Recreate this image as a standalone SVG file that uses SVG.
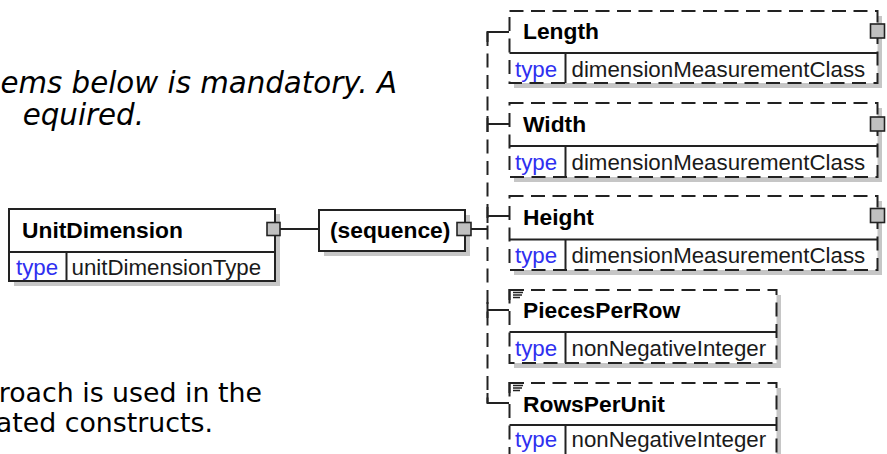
<svg xmlns="http://www.w3.org/2000/svg" width="887" height="454" viewBox="0 0 887 454">
<style>
.bg{fill:#ffffff}
.shadow{fill:#c6c6c6}
.box{fill:#ffffff;stroke:#222;stroke-width:2}
.opt{fill:#ffffff;stroke:#222;stroke-width:2;stroke-dasharray:14 7.5}
.div{stroke:#222;stroke-width:2;fill:none}
.sq{fill:#c0c0c0;stroke:#222;stroke-width:1.6}
.ln{stroke:#222;stroke-width:2;fill:none}
.dash{stroke:#222;stroke-width:2;fill:none;stroke-dasharray:14 7.5}
.hd{font-family:"Liberation Sans",Arial,sans-serif;font-weight:bold;font-size:22.8px;fill:#000}
.tk{font-family:"Liberation Sans",Arial,sans-serif;font-size:22.3px;fill:#2f2ff0}
.tv{font-family:"Liberation Sans",Arial,sans-serif;font-size:22.3px;fill:#1a1a1a}
.note{font-family:"DejaVu Sans",Verdana,sans-serif;font-size:29.3px;fill:#000}
.note2{font-family:"DejaVu Sans",Verdana,sans-serif;font-size:26.8px;fill:#000}
.icon{stroke:#222;stroke-width:1.3;fill:none}
</style>
<rect class="bg" x="0" y="0" width="887" height="454"/>

<g id="notes">
<text class="note" font-style="italic" x="397" y="93" text-anchor="end">ems below is mandatory. A</text>
<text class="note" font-style="italic" x="144" y="125" text-anchor="end">equired.</text>
<text class="note2" x="262" y="402" text-anchor="end">roach is used in the</text>
<text class="note2" x="213" y="432" text-anchor="end">ated constructs.</text>
</g>

<g id="connectors">
<line class="ln" x1="280" y1="229" x2="319" y2="229"/>
<line class="ln" x1="471" y1="229" x2="487.5" y2="229"/>
<line class="dash" x1="487.5" y1="32" x2="487.5" y2="403"/>
<path class="ln" d="M487.5,42 V32 H509"/>
<path class="ln" d="M487.5,116 V132 M487.5,124 H509"/>
<path class="ln" d="M487.5,207 V223 M487.5,216 H509"/>
<path class="ln" d="M487.5,302 V318 M487.5,310 H509"/>
<path class="ln" d="M487.5,393 V403 H509"/>
</g>

<g id="UnitDimension">
<rect class="shadow" x="14" y="214" width="266" height="72"/>
<rect class="box" x="9" y="209" width="266" height="72"/>
<line class="div" x1="9" y1="252" x2="275" y2="252"/>
<line class="div" x1="66.5" y1="252" x2="66.5" y2="281"/>
<text class="hd" x="22" y="238">UnitDimension</text>
<text class="tk" x="16" y="275">type</text>
<text class="tv" x="71.5" y="275">unitDimensionType</text>
<rect class="sq" x="267" y="222.5" width="13" height="13"/>
</g>

<g id="sequence">
<rect class="shadow" x="324" y="215" width="146" height="41"/>
<rect class="box" x="319" y="210" width="146" height="41"/>
<text class="hd" x="330" y="238">(sequence)</text>
<rect class="sq" x="457" y="222.5" width="14" height="13"/>
</g>

<g id="Length">
<rect class="shadow" x="514" y="16" width="368" height="72"/>
<rect class="opt" x="509.5" y="11" width="368" height="72"/>
<line class="div" x1="509.5" y1="53" x2="877.5" y2="53"/>
<line class="div" x1="565.5" y1="53" x2="565.5" y2="83"/>
<text class="hd" x="523" y="39">Length</text>
<text class="tk" x="515" y="77">type</text>
<text class="tv" x="571.5" y="77">dimensionMeasurementClass</text>
<rect class="sq" x="870.5" y="24" width="14" height="14"/>
</g>

<g id="Width">
<rect class="shadow" x="514" y="108" width="368" height="74"/>
<rect class="opt" x="509.5" y="103" width="368" height="74"/>
<line class="div" x1="509.5" y1="146" x2="877.5" y2="146"/>
<line class="div" x1="565.5" y1="146" x2="565.5" y2="177"/>
<text class="hd" x="523" y="131.5">Width</text>
<text class="tk" x="515" y="170">type</text>
<text class="tv" x="571.5" y="170">dimensionMeasurementClass</text>
<rect class="sq" x="870.5" y="117" width="14" height="14"/>
</g>

<g id="Height">
<rect class="shadow" x="514" y="201" width="368" height="74"/>
<rect class="opt" x="509.5" y="196" width="368" height="74"/>
<line class="div" x1="509.5" y1="239.5" x2="877.5" y2="239.5"/>
<line class="div" x1="565.5" y1="239.5" x2="565.5" y2="270"/>
<text class="hd" x="523" y="224.5">Height</text>
<text class="tk" x="515" y="263">type</text>
<text class="tv" x="571.5" y="263">dimensionMeasurementClass</text>
<rect class="sq" x="870.5" y="208.5" width="14" height="14"/>
</g>

<g id="PiecesPerRow">
<rect class="shadow" x="514" y="295" width="267" height="73"/>
<rect class="opt" x="509.5" y="290" width="267" height="73"/>
<line class="div" x1="509.5" y1="332" x2="776.5" y2="332"/>
<line class="div" x1="565.5" y1="332" x2="565.5" y2="363"/>
<path class="ln" d="M509.5,300 V290 H524"/>
<path class="icon" d="M513,292.5 H523 M513,295 H522 M513,297.5 H520"/>
<text class="hd" x="523" y="318">PiecesPerRow</text>
<text class="tk" x="515" y="356">type</text>
<text class="tv" x="571.5" y="356">nonNegativeInteger</text>
</g>

<g id="RowsPerUnit">
<rect class="shadow" x="514" y="388" width="267" height="73"/>
<rect class="opt" x="509.5" y="383" width="267" height="73"/>
<line class="div" x1="509.5" y1="425" x2="776.5" y2="425"/>
<line class="div" x1="565.5" y1="425" x2="565.5" y2="456"/>
<path class="ln" d="M509.5,393 V383 H524"/>
<path class="icon" d="M513,385.5 H523 M513,388 H522 M513,390.5 H520"/>
<text class="hd" x="523" y="412">RowsPerUnit</text>
<text class="tk" x="515" y="447">type</text>
<text class="tv" x="571.5" y="447">nonNegativeInteger</text>
</g>
</svg>
